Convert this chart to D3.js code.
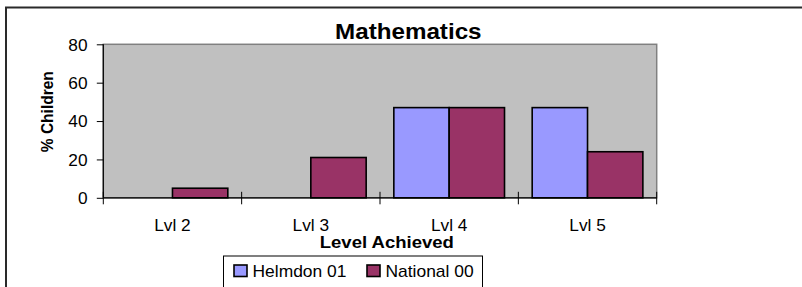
<!DOCTYPE html>
<html><head><meta charset="utf-8">
<script src="https://cdn.jsdelivr.net/npm/d3@7/dist/d3.min.js"></script>
<style>
html,body{margin:0;padding:0;background:#fff;}
text{font-family:"Liberation Sans",Arial,sans-serif;fill:#000;}
</style></head>
<body>
<svg id="chart" width="802" height="287"></svg>
<script>
const categories = ["Lvl 2", "Lvl 3", "Lvl 4", "Lvl 5"];
const seriesNames = ["Helmdon 01", "National 00"];
const helmdon = [0, 0, 47, 47];
const national = [5, 21, 47, 24];
const yTicks = [0, 20, 40, 60, 80];
const colors = ["#9999FF", "#993366"];

(function () {
const SX = 1.08; // slight horizontal stretch of text in the reference
const svg = d3.select("#chart");

// outer frame
svg.append("rect").attr("x", 6).attr("y", 7.5).attr("width", 900).attr("height", 400)
  .attr("fill", "none").attr("stroke", "#2a2a2a").attr("stroke-width", 2);

const pL = 103.3, pR = 656.7, pT = 44.3, pB = 197.8;
const x = d3.scaleBand().domain(categories).range([pL, pR]).paddingInner(0).paddingOuter(0);
const xs = d3.scaleBand().domain(seriesNames).range([0, x.bandwidth()]).paddingInner(0).paddingOuter(0.25);
const y = d3.scaleLinear().domain([0, 80]).range([pB, pT]);

// plot background
svg.append("rect").attr("x", pL).attr("y", pT).attr("width", pR - pL).attr("height", pB - pT)
  .attr("fill", "#C0C0C0").attr("stroke", "#808080").attr("stroke-width", 1.5);

// bars
const data = categories.map((c, i) => ({c, vals: [helmdon[i], national[i]]}));
const g = svg.append("g");
data.forEach(d => {
  d.vals.forEach((v, j) => {
    if (v <= 0) return;
    g.append("rect")
      .attr("x", x(d.c) + xs(seriesNames[j]))
      .attr("y", y(v))
      .attr("width", xs.bandwidth())
      .attr("height", y(0) - y(v))
      .attr("fill", colors[j]).attr("stroke", "#000").attr("stroke-width", 1.6);
  });
});

// y axis
const yAxis = svg.append("g").attr("transform", `translate(${pL},0)`)
  .call(d3.axisLeft(y).tickValues(yTicks).tickSize(6.5).tickPadding(0));
yAxis.select(".domain").attr("stroke", "#000").attr("stroke-width", 1.2).attr("d", `M0,${pT}V${pB}`);
yAxis.selectAll(".tick line").attr("stroke", "#000");
yAxis.selectAll(".tick text")
  .attr("font-family", "Liberation Sans, Arial, sans-serif").attr("font-size", 16)
  .attr("x", -15.8 / SX).attr("dy", "0.36em")
  .attr("transform", `scale(${SX},1)`);

// x axis
const xAxis = svg.append("g").attr("transform", `translate(0,${pB})`)
  .call(d3.axisBottom(x).tickSize(0).tickPadding(0));
xAxis.select(".domain").attr("stroke", "#000").attr("stroke-width", 1.2).attr("d", `M${pL},0H${pR}`);
xAxis.selectAll(".tick text")
  .attr("font-family", "Liberation Sans, Arial, sans-serif").attr("font-size", 16)
  .attr("y", 0).attr("dy", 0)
  .attr("transform", `translate(0,32.7) scale(${SX},1)`);
// cross tick marks at category boundaries
const bounds = categories.map(c => x(c)).concat([x.range()[1]]);
xAxis.selectAll(".bound").data(bounds).join("line").attr("class", "bound")
  .attr("x1", d => d).attr("x2", d => d).attr("y1", -6).attr("y2", 6.5)
  .attr("stroke", "#000").attr("stroke-width", 1);

// title
svg.append("text").attr("transform", `translate(408.3,38.7) scale(1.1,1)`)
  .attr("text-anchor", "middle").attr("font-size", 22).attr("font-weight", "bold").text("Mathematics");

// axis titles
svg.append("text").attr("transform", `translate(386.8,247.7) scale(1.09,1)`)
  .attr("text-anchor", "middle").attr("font-size", 17).attr("font-weight", "bold").text("Level Achieved");
svg.append("text").attr("transform", `translate(53,111.7) rotate(-90) scale(1,1.1)`)
  .attr("text-anchor", "middle").attr("font-size", 15.5).attr("font-weight", "bold").text("% Children");

// legend
const lg = svg.append("g");
lg.append("rect").attr("x", 223.5).attr("y", 256).attr("width", 259).attr("height", 60)
  .attr("fill", "#fff").attr("stroke", "#000").attr("stroke-width", 1);
const legendX = [234, 367];
seriesNames.forEach((n, i) => {
  lg.append("rect").attr("x", legendX[i]).attr("y", 265).attr("width", 13).attr("height", 11.5)
    .attr("fill", colors[i]).attr("stroke", "#000").attr("stroke-width", 1.6);
  lg.append("text").attr("transform", `translate(${legendX[i] + 18.5},276.7) scale(1.09,1)`)
    .attr("font-size", 16).text(n);
});
})();
</script>
</body></html>
